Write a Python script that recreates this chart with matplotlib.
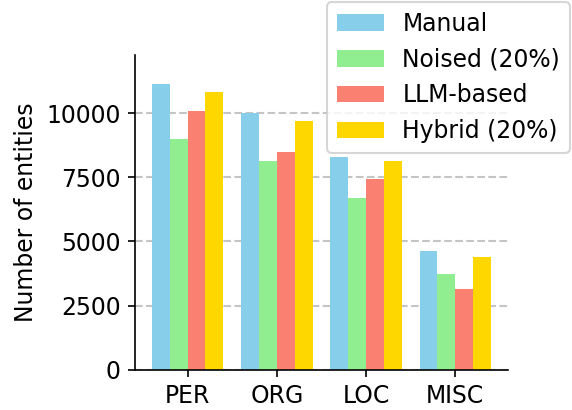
import numpy as np
import matplotlib
matplotlib.use("Agg")
import matplotlib.pyplot as plt

# Entity counts per type
categories = ["PER", "ORG", "LOC", "MISC"]
manual = [11150, 10020, 8300, 4610]
noised = [9010, 8120, 6710, 3750]
llm_based = [10100, 8470, 7450, 3130]
hybrid = [10840, 9710, 8150, 4380]

series = [
    ("Manual", manual, "skyblue"),
    ("Noised (20%)", noised, "lightgreen"),
    ("LLM-based", llm_based, "salmon"),
    ("Hybrid (20%)", hybrid, "gold"),
]

plt.rcParams["font.size"] = 11.3

fig = plt.figure(figsize=(572 / 150, 410 / 150), dpi=150)
ax = fig.add_axes([0.236, 0.098, 0.652, 0.768])

x = np.arange(len(categories))
width = 0.2
for i, (label, vals, color) in enumerate(series):
    ax.bar(x + (i - 1.5) * width, vals, width, label=label, color=color)

ax.set_xticks(x)
ax.set_xticklabels(categories)
ax.set_yticks([0, 2500, 5000, 7500, 10000])
ax.set_ylim(0, max(manual) * 1.1)
ax.set_ylabel("Number of entities")

ax.spines["top"].set_visible(False)
ax.spines["right"].set_visible(False)
ax.yaxis.grid(True, linestyle="--", color="gray", alpha=0.45, linewidth=1.0)
ax.set_axisbelow(True)

fig.legend(loc="upper right", bbox_to_anchor=(1.0, 1.0), borderaxespad=0.1)

fig.savefig("out.png", dpi=150)
